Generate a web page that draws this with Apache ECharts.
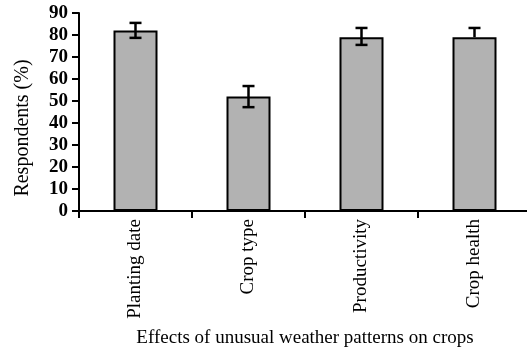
<!DOCTYPE html>
<html><head><meta charset="utf-8">
<script src="https://cdn.jsdelivr.net/npm/echarts@6/dist/echarts.min.js"></script>
<style>html,body{margin:0;padding:0;background:#fff}#c{width:527px;height:349px}</style>
</head><body><div id="c"></div>
<script>
const categories = ['Planting date', 'Crop type', 'Productivity', 'Crop health'];
const values = [82, 52, 79, 79];
const errPlus = [3.5, 4.8, 4.2, 4.2];
const errMinus = [3.3, 4.8, 3.5, 0];
const yTicks = [0, 10, 20, 30, 40, 50, 60, 70, 80, 90];

const font = 'Liberation Serif, Times New Roman, serif';
const errData = categories.map((c, i) => [i, values[i] - errMinus[i], values[i] + errPlus[i]]);

const chart = echarts.init(document.getElementById('c'), null, {renderer: 'canvas'});
chart.setOption({
  animation: false,
  backgroundColor: '#fff',
  grid: {left: 79, right: -4, top: 13, bottom: 138, containLabel: false, outerBoundsMode: 'none'},
  xAxis: {
    type: 'category', data: categories, boundaryGap: true,
    name: 'Effects of unusual weather patterns on crops', nameLocation: 'middle', nameGap: 118,
    nameTextStyle: {fontFamily: font, fontSize: 19, color: '#000'},
    axisLine: {lineStyle: {color: '#000', width: 2}},
    axisTick: {show: true, length: 7, lineStyle: {color: '#000', width: 2}},
    axisLabel: {rotate: 90, fontFamily: font, fontSize: 19, color: '#000', margin: 8},
    splitLine: {show: false}
  },
  yAxis: {
    type: 'value', min: yTicks[0], max: yTicks[yTicks.length - 1], interval: 10,
    name: 'Respondents (%)', nameLocation: 'middle', nameGap: 46,
    nameTextStyle: {fontFamily: font, fontSize: 20, color: '#000', padding: [0, 32, 0, 0]},
    axisLine: {show: true, lineStyle: {color: '#000', width: 2}},
    axisTick: {show: true, length: 7, lineStyle: {color: '#000', width: 2}},
    axisLabel: {fontFamily: font, fontSize: 19, fontWeight: 'bold', color: '#000', margin: 11},
    splitLine: {show: false}
  },
  series: [
    {
      type: 'bar', data: values, barWidth: 44,
      itemStyle: {color: '#b2b2b2', borderColor: '#000', borderWidth: 2}
    },
    {
      type: 'custom', data: errData, z: 10,
      renderItem: function (params, api) {
        const x = api.value(0);
        const lo = api.coord([x, api.value(1)]);
        const hi = api.coord([x, api.value(2)]);
        const hw = 6;
        const st = {stroke: '#000', lineWidth: 2.5};
        const children = [
          {type: 'line', shape: {x1: hi[0], y1: hi[1], x2: lo[0], y2: lo[1]}, style: st},
          {type: 'line', shape: {x1: hi[0] - hw, y1: hi[1], x2: hi[0] + hw, y2: hi[1]}, style: st}
        ];
        if (api.value(1) < values[params.dataIndex]) {
          children.push({type: 'line', shape: {x1: lo[0] - hw, y1: lo[1], x2: lo[0] + hw, y2: lo[1]}, style: st});
        }
        return {type: 'group', children: children};
      }
    }
  ]
});
</script></body></html>
